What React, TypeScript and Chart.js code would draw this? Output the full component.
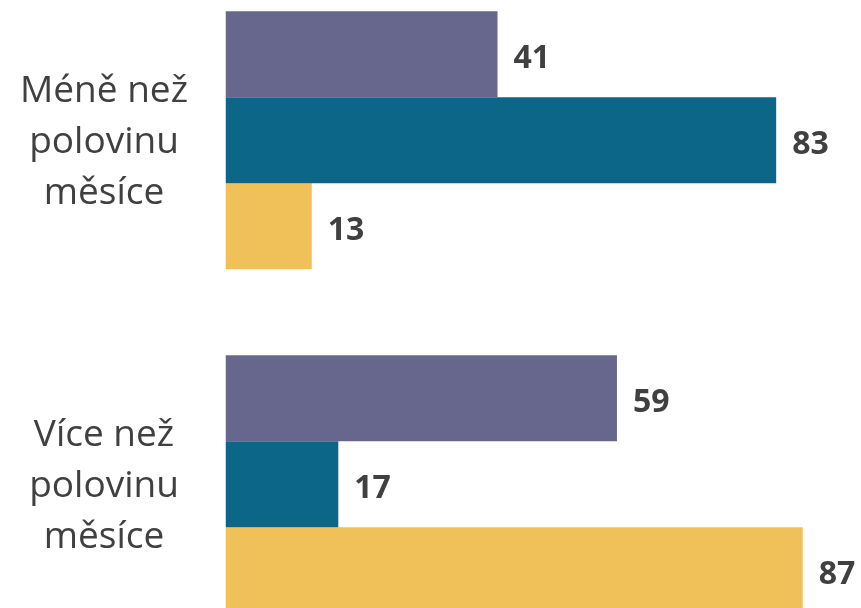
import React, { useEffect, useRef } from "react";
import { Chart, registerables } from "chart.js";

Chart.register(...registerables);

const categories: string[][] = [
  ["Méně než", "polovinu", "měsíce"],
  ["Více než", "polovinu", "měsíce"],
];
const seriesA: number[] = [41, 59];
const seriesB: number[] = [83, 17];
const seriesC: number[] = [13, 87];
const seriesColors: string[] = ["#67668C", "#0B6688", "#EFC158"];
const axisMax = 95;

const TEXT = "#404040";

const labelsPlugin = {
  id: "customLabels",
  afterDatasetsDraw(chart: any) {
    const ctx = chart.ctx;
    ctx.save();
    // value labels
    ctx.font = "bold 32px 'Open Sans'";
    ctx.fillStyle = TEXT;
    ctx.textAlign = "left";
    ctx.textBaseline = "alphabetic";
    chart.data.datasets.forEach((ds: any, di: number) => {
      const meta = chart.getDatasetMeta(di);
      meta.data.forEach((el: any, i: number) => {
        ctx.fillText(String(ds.data[i]), el.x + 16, el.y + 13.5);
      });
    });
    // category labels
    const yScale = chart.scales.y;
    ctx.font = "37px 'Open Sans'";
    ctx.textAlign = "center";
    categories.forEach((lines, i) => {
      const cy = yScale.getPixelForValue(i);
      const n = lines.length;
      lines.forEach((line, li) => {
        const by = cy + (li - (n - 1) / 2) * 51 + 13;
        ctx.fillText(line, 104, by);
      });
    });
    ctx.restore();
  },
};

export default function App() {
  const ref = useRef<HTMLCanvasElement | null>(null);
  useEffect(() => {
    if (!ref.current) return;
    const chart = new Chart(ref.current, {
      type: "bar",
      data: {
        labels: categories.map((c) => c.join(" ")),
        datasets: [
          { label: "A", data: seriesA, backgroundColor: seriesColors[0] },
          { label: "B", data: seriesB, backgroundColor: seriesColors[1] },
          { label: "C", data: seriesC, backgroundColor: seriesColors[2] },
        ],
      },
      options: {
        indexAxis: "y",
        responsive: false,
        animation: false,
        devicePixelRatio: 1,
        layout: { padding: { top: 8.3, bottom: 9.7, left: 225.5, right: 5.2 } },
        datasets: { bar: { categoryPercentage: 0.75, barPercentage: 1 } } as any,
        plugins: { legend: { display: false }, tooltip: { enabled: false } },
        scales: {
          x: { display: false, min: 0, max: axisMax },
          y: { display: false },
        },
      },
      plugins: [labelsPlugin],
    });
    return () => chart.destroy();
  }, []);
  return (
    <div
      style={{
        position: "fixed",
        left: 0,
        top: 0,
        width: 861,
        height: 608,
        overflow: "hidden",
        background: "#fff",
      }}
    >
      <canvas
        ref={ref}
        width={861}
        height={706}
        style={{ position: "absolute", left: 0, top: -40, width: 861, height: 706 }}
      />
    </div>
  );
}
